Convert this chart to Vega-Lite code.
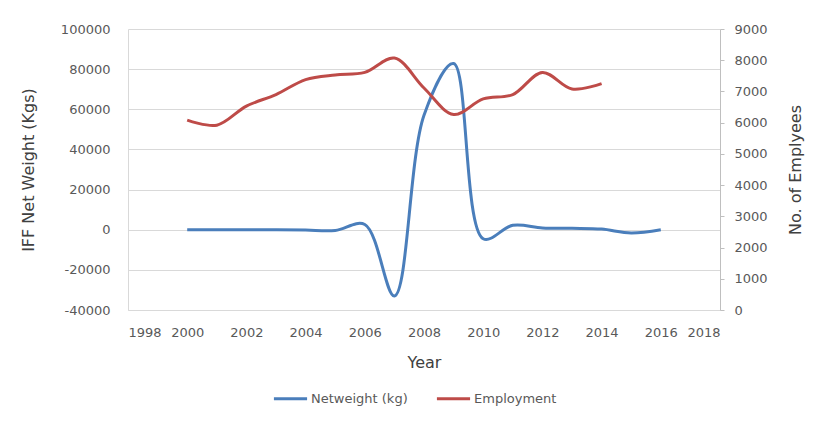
{
  "$schema": "https://vega.github.io/schema/vega-lite/v6.json",
  "width": 592,
  "height": 281,
  "autosize": "none",
  "padding": {"left": 128, "top": 29, "right": 108, "bottom": 123},
  "background": "white",
  "config": {
    "view": {"stroke": null},
    "font": "DejaVu Sans",
    "axis": {
      "labelColor": "#595959",
      "labelFontSize": 13,
      "titleColor": "#404040",
      "titleFontSize": 16,
      "titleFontWeight": "normal"
    }
  },
  "data": {
    "values": [
      {"year": 2000, "netweight": 0, "employment": 6080},
      {"year": 2001, "netweight": 0, "employment": 5920},
      {"year": 2002, "netweight": 0, "employment": 6530},
      {"year": 2003, "netweight": 0, "employment": 6900},
      {"year": 2004, "netweight": -200, "employment": 7380},
      {"year": 2005, "netweight": -400, "employment": 7530},
      {"year": 2006, "netweight": 2600, "employment": 7610},
      {"year": 2007, "netweight": -33000, "employment": 8070},
      {"year": 2008, "netweight": 57000, "employment": 7110},
      {"year": 2009, "netweight": 82800, "employment": 6260},
      {"year": 2010, "netweight": -4500, "employment": 6760},
      {"year": 2011, "netweight": 2200, "employment": 6900},
      {"year": 2012, "netweight": 900, "employment": 7610},
      {"year": 2013, "netweight": 700, "employment": 7080},
      {"year": 2014, "netweight": 300, "employment": 7250},
      {"year": 2015, "netweight": -1600, "employment": null},
      {"year": 2016, "netweight": 0, "employment": null}
    ]
  },
  "layer": [
    {
      "mark": {"type": "line", "interpolate": "catmull-rom", "strokeWidth": 3},
      "encoding": {
        "x": {
          "field": "year", "type": "quantitative",
          "scale": {"domain": [1998, 2018], "nice": false, "zero": false},
          "axis": {
            "title": "Year",
            "values": [1998, 2000, 2002, 2004, 2006, 2008, 2010, 2012, 2014, 2016, 2018],
            "format": "d",
            "grid": false,
            "ticks": false,
            "tickSize": 0,
            "domain": true,
            "domainColor": "#D9D9D9",
            "labelPadding": 16,
            "titlePadding": 15
          }
        },
        "y": {
          "field": "netweight", "type": "quantitative",
          "scale": {"domain": [-40000, 100000], "nice": false},
          "axis": {
            "orient": "left",
            "title": "IFF Net Weight (Kgs)",
            "values": [-40000, -20000, 0, 20000, 40000, 60000, 80000, 100000],
            "labelExpr": "'' + datum.value",
            "grid": true,
            "gridColor": "#D9D9D9",
            "ticks": false,
            "tickSize": 0,
            "domain": true,
            "domainColor": "#D9D9D9",
            "labelPadding": 18,
            "titlePadding": 24
          }
        },
        "color": {
          "datum": "Netweight (kg)",
          "type": "nominal",
          "scale": {"domain": ["Netweight (kg)", "Employment"], "range": ["#4A7EBB", "#BE4B48"]},
          "legend": {
            "orient": "none",
            "legendX": 144,
            "legendY": 351,
            "direction": "horizontal",
            "title": null,
            "symbolType": "stroke",
            "symbolSize": 1100,
            "symbolStrokeWidth": 3,
            "labelFontSize": 13,
            "labelColor": "#595959",
            "labelOffset": 2,
            "columnPadding": 22,
            "padding": 0
          }
        }
      }
    },
    {
      "transform": [{"filter": "datum.employment != null"}],
      "mark": {"type": "line", "interpolate": "catmull-rom", "strokeWidth": 3},
      "encoding": {
        "x": {"field": "year", "type": "quantitative"},
        "y": {
          "field": "employment", "type": "quantitative",
          "scale": {"domain": [0, 9000], "nice": false},
          "axis": {
            "orient": "right",
            "title": "No. of Emplyees",
            "titleAngle": 270,
            "values": [0, 1000, 2000, 3000, 4000, 5000, 6000, 7000, 8000, 9000],
            "format": "d",
            "grid": false,
            "ticks": true,
            "tickSize": 4,
            "tickColor": "#BFBFBF",
            "domain": true,
            "domainColor": "#BFBFBF",
            "labelPadding": 10,
            "titlePadding": 36
          }
        },
        "color": {"datum": "Employment", "type": "nominal"}
      }
    }
  ],
  "resolve": {"scale": {"y": "independent"}}
}
